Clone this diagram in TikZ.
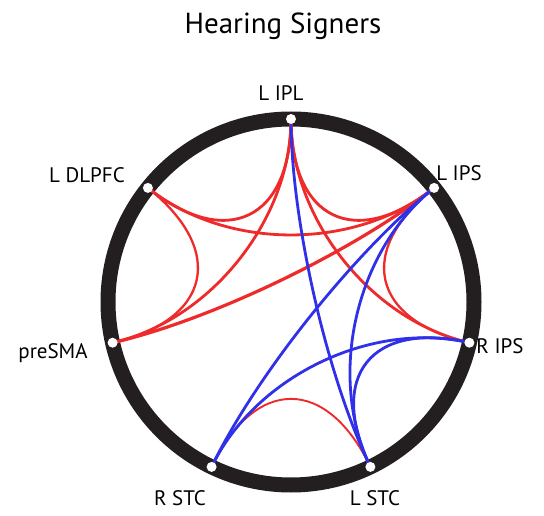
\documentclass[tikz,border=0pt]{standalone}
\usepackage{fontspec}
\setmainfont{PT Sans}
\usetikzlibrary{calc}
\definecolor{chordred}{RGB}{238,42,42}
\definecolor{chordblue}{RGB}{48,48,232}
\definecolor{ringblack}{RGB}{35,31,32}
\tikzset{
  chord/.style={to path={.. controls ($(\tikztostart)!0.55!(O)$) and ($(\tikztotarget)!0.55!(O)$) .. (\tikztotarget)}},
  redchord/.style={draw=chordred, line width=2.8pt},
  bluechord/.style={draw=chordblue, line width=2.8pt},
  dot/.style={circle, fill=white, inner sep=0pt, minimum size=10pt},
  lbl/.style={inner sep=0pt, anchor=base, font=\fontsize{21}{25}\selectfont},
}
\begin{document}
\begin{tikzpicture}[x=1pt,y=-1pt]
\useasboundingbox (0,0) rectangle (544,516);
\fill[white] (0,0) rectangle (544,516);
\coordinate (O) at (291,302);
\coordinate (ipl) at (291,119);
\coordinate (lips) at (434.1,187.9);
\coordinate (rips) at (469.4,342.7);
\coordinate (lstc) at (370.4,466.9);
\coordinate (rstc) at (211.6,466.9);
\coordinate (presma) at (112.6,342.7);
\coordinate (dlpfc) at (147.9,187.9);

\draw[ringblack, line width=15pt] (O) circle[radius=183];

% red connections
\draw[redchord] (dlpfc) to[chord] (ipl);
\draw[redchord] (dlpfc) to[chord] (lips);
\draw[redchord, line width=2.3pt] (dlpfc) to[chord] (presma);
\draw[redchord] (presma) to[chord] (ipl);
\draw[redchord, line width=3.2pt] (presma) to[chord] (lips);
\draw[redchord] (ipl) to[chord] (lips);
\draw[redchord] (ipl) to[chord] (rips);
\draw[redchord, line width=2.3pt] (lips) to[chord] (rips);
\draw[redchord, line width=1.9pt] (rstc) to[chord] (lstc);

% blue connections
\draw[bluechord] (ipl) to[chord] (lstc);
\draw[bluechord] (lips) to[chord] (rstc);
\draw[bluechord] (lips) to[chord] (lstc);
\draw[bluechord] (rips) to[chord] (rstc);
\draw[bluechord] (rips) to[chord] (lstc);

% region dots
\node[dot] (ipl-dot) at (ipl) {};
\node[dot] (lips-dot) at (lips) {};
\node[dot] (rips-dot) at (rips) {};
\node[dot] (lstc-dot) at (lstc) {};
\node[dot] (rstc-dot) at (rstc) {};
\node[dot] (presma-dot) at (presma) {};
\node[dot] (dlpfc-dot) at (dlpfc) {};

% labels
\node[inner sep=0pt, anchor=base, font=\fontsize{29}{34}\selectfont] (title) at (283,34) {Hearing Signers};
\node[lbl] (ipl-lbl) at (281,101) {L IPL};
\node[lbl] (lips-lbl) at (459,181) {L IPS};
\node[lbl] (rips-lbl) at (500,353) {R IPS};
\node[lbl] (lstc-lbl) at (375,505) {L STC};
\node[lbl] (rstc-lbl) at (180,505) {R STC};
\node[lbl] (presma-lbl) at (53,358) {preSMA};
\node[lbl] (dlpfc-lbl) at (87,183) {L DLPFC};
\end{tikzpicture}
\end{document}
